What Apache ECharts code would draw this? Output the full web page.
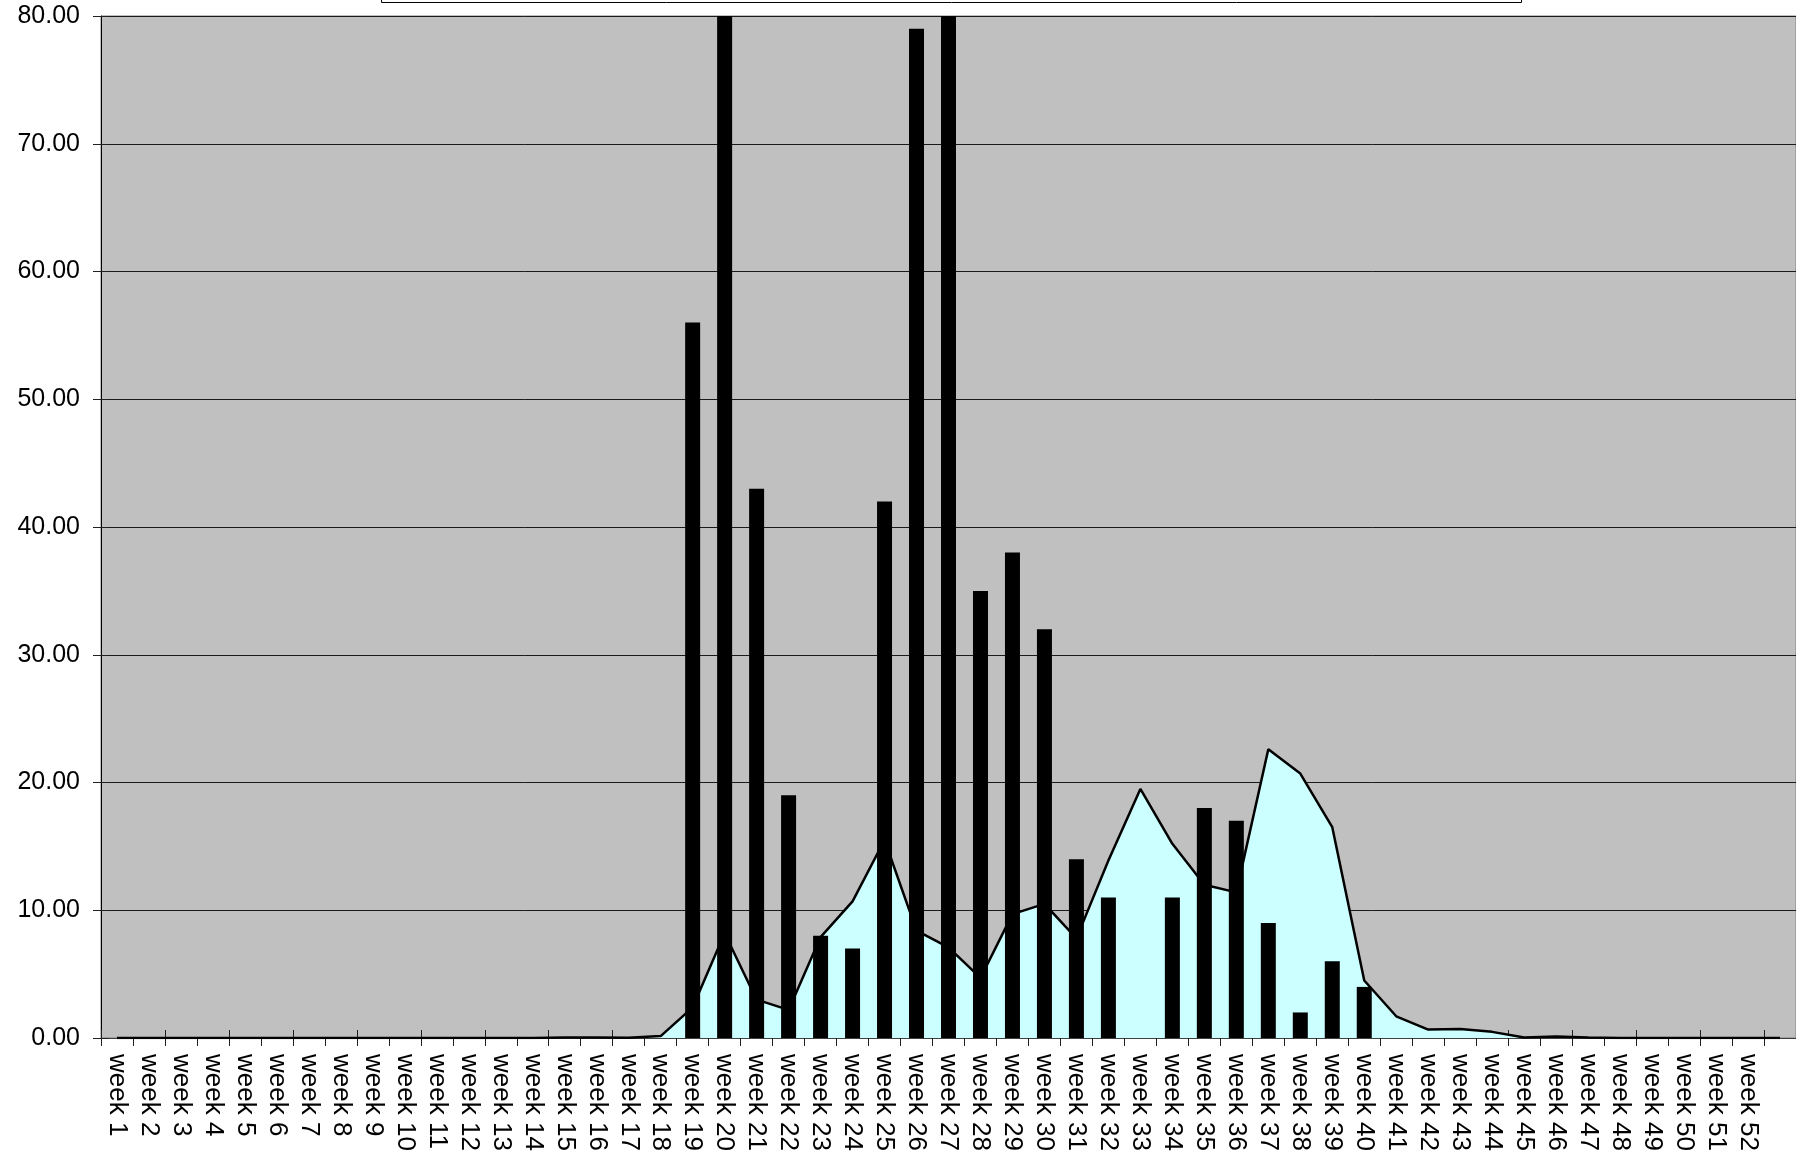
<!DOCTYPE html>
<html>
<head>
<meta charset="utf-8">
<title>weekly chart</title>
<script src="https://cdn.jsdelivr.net/npm/echarts@6.0.0/dist/echarts.min.js"></script>
<style>
	html, body { margin: 0; padding: 0; background: #ffffff; }
	#main { width: 1796px; height: 1159px; }
</style>
</head>
<body>
<div id="main"></div>
<script>
// 周标签(第53格无标签)
var weeks = [];
for (var i = 1; i <= 52; i++) {
	weeks.push('week ' + i);
}
weeks.push('');

// 柱状数据(周19-40)，null 表示无柱
var barValues = [
	null, null, null, null, null, null, null, null, null, null,
	null, null, null, null, null, null, null, null,
	56, 88, 43, 19, 8, 7, 42, 79, 84, 35, 38, 32, 14, 11, null, 11, 18, 17, 9, 2, 6, 4,
	null, null, null, null, null, null, null, null, null, null, null, null, null
];

// 面积数据
var areaValues = [
	0, 0, 0, 0, 0, 0, 0, 0, 0, 0,
	0, 0, 0, 0, 0.03, 0.03, 0.02, 0.15,
	2.4, 8.2, 3.0, 2.2, 7.9, 10.7, 15.5, 8.4, 7.1, 4.7, 9.7, 10.5, 7.8, 13.9, 19.5, 15.2,
	12.0, 11.4, 22.6, 20.7, 16.5, 4.5, 1.7, 0.66, 0.71, 0.48, 0.04, 0.12, 0.03,
	0, 0, 0, 0, 0, 0
];

var yMin = 0;
var yMax = 80;
var yStep = 10;

$ready(function (){
	initWeekChart();
});

function $ready(fn){
	if (document.readyState !== 'loading') {
		fn();
	} else {
		document.addEventListener('DOMContentLoaded', fn);
	}
}

/**
 * 加载周数据图(面积 + 柱)
 */
function initWeekChart(){
	var myChart = echarts.init(document.getElementById('main'));
	var font = "'Liberation Sans', Arial, sans-serif";
	var option = {
		animation: false,
		backgroundColor: '#ffffff',
		grid: {
			left: 101,
			right: 0,
			top: 16,
			bottom: 121,
			show: true,
			backgroundColor: '#c0c0c0',
			borderColor: '#808080',
			borderWidth: 1
		},
		// 图例框只露出底边
		graphic: [{
			type: 'rect',
			left: 381,
			top: -40,
			shape: { width: 1140, height: 42 },
			style: { fill: '#ffffff', stroke: '#000000', lineWidth: 1 }
		}],
		xAxis: [{
			type: 'category',
			data: weeks,
			boundaryGap: true,
			axisLine: { lineStyle: { color: '#404040', width: 1 } },
			axisTick: { show: true, length: 8, lineStyle: { color: '#202020' } },
			axisLabel: {
				interval: 0,
				rotate: -90,
				margin: 16,
				color: '#000000',
				fontSize: 26,
				fontFamily: font
			},
			splitLine: { show: false }
		}, {
			type: 'category',
			data: weeks,
			position: 'bottom',
			boundaryGap: true,
			axisLine: { show: false },
			axisTick: { show: true, inside: true, length: 8, lineStyle: { color: '#202020' } },
			axisLabel: { show: false },
			splitLine: { show: false }
		}],
		yAxis: [{
			type: 'value',
			min: yMin,
			max: yMax,
			interval: yStep,
			axisLine: { show: true, lineStyle: { color: '#000000', width: 1 } },
			axisTick: { show: true, length: 8, lineStyle: { color: '#202020' } },
			axisLabel: {
				margin: 21,
				color: '#000000',
				fontSize: 25,
				fontFamily: font,
				formatter: function (v){ return v.toFixed(2); }
			},
			splitLine: { show: true, lineStyle: { color: '#1a1a1a', width: 1 } }
		}, {
			type: 'value',
			position: 'left',
			min: yMin,
			max: yMax,
			interval: yStep,
			axisLine: { show: false },
			axisTick: { show: true, inside: true, length: 8, lineStyle: { color: '#202020' } },
			axisLabel: { show: false },
			splitLine: { show: false }
		}],
		series: [{
			name: 'area',
			type: 'line',
			xAxisIndex: 0,
			yAxisIndex: 0,
			data: areaValues,
			showSymbol: false,
			symbol: 'none',
			lineStyle: { color: '#000000', width: 2.5 },
			areaStyle: { color: '#ccffff', opacity: 1 },
			z: 2
		}, {
			name: 'bars',
			type: 'bar',
			xAxisIndex: 0,
			yAxisIndex: 0,
			data: barValues,
			barWidth: 15,
			clip: true,
			itemStyle: { color: '#000000' },
			z: 3
		}]
	};
	myChart.setOption(option);
	window.onresize = myChart.resize;
}
</script>
</body>
</html>
